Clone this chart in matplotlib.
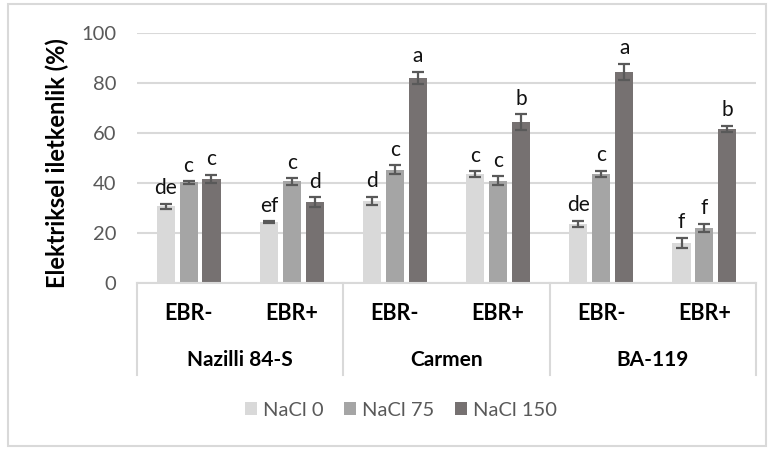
import matplotlib.pyplot as plt
import numpy as np
from matplotlib.patches import Rectangle

plt.rcParams["font.family"] = ["Lato", "DejaVu Sans"]

cultivars = ["Nazilli 84-S", "Carmen", "BA-119"]
treatments = ["EBR-", "EBR+"]
series = ["NaCl 0", "NaCl 75", "NaCl 150"]

# one value per cultivar x treatment, in plotting order
nacl0 = [30.8, 24.5, 33.0, 43.6, 23.6, 16.2]
nacl75 = [40.2, 40.6, 45.4, 40.9, 43.6, 22.2]
nacl150 = [41.6, 32.4, 82.0, 64.2, 84.5, 61.6]

err0 = [1.0, 0.3, 1.6, 1.1, 1.3, 2.0]
err75 = [0.5, 1.2, 1.8, 1.8, 1.4, 1.6]
err150 = [1.7, 2.0, 2.5, 3.2, 3.2, 1.3]

letters0 = ["de", "ef", "d", "c", "de", "f"]
letters75 = ["c", "c", "c", "c", "c", "f"]
letters150 = ["c", "d", "a", "b", "a", "b"]

colors = ["#D9D9D9", "#A5A5A5", "#767171"]
grey_text = "#595959"

fig = plt.figure(figsize=(7.73, 4.5), dpi=100)
ax = fig.add_axes([137 / 773, 1 - 283 / 450, 619 / 773, 250 / 450])

x = np.arange(len(nacl0))
width = 0.175
step = 0.222
vals = [nacl0, nacl75, nacl150]
errs = [err0, err75, err150]
lets = [letters0, letters75, letters150]

for k in range(3):
    pos = x + (k - 1) * step
    ax.bar(pos, vals[k], width, color=colors[k], label=series[k], zorder=2)
    ax.errorbar(pos, vals[k], yerr=errs[k], fmt="none", ecolor="#595959",
                elinewidth=1.6, capsize=4, capthick=1.6, zorder=3)
    for p, v, e, t in zip(pos, vals[k], errs[k], lets[k]):
        ax.text(p, v + e + 3.8, t, ha="center", va="baseline", fontsize=15, color="#111111")

ax.set_ylim(0, 100)
ax.set_xlim(-0.5, len(x) - 0.5)
ax.set_yticks(np.arange(0, 101, 20))
ax.yaxis.grid(True, color="#D9D9D9", linewidth=1.5, zorder=0)
ax.set_axisbelow(True)
ax.tick_params(axis="y", length=0, pad=15, labelsize=14.5, labelcolor=grey_text)
ax.tick_params(axis="x", length=0, labelbottom=False)
for s in ["top", "right", "left"]:
    ax.spines[s].set_visible(False)
ax.spines["bottom"].set_color("#D9D9D9")
ax.spines["bottom"].set_linewidth(1.5)

# multi-level category axis
tr = ax.get_xaxis_transform()
depth = -(375 - 283) / 250
for b in np.arange(-0.5, len(x), 2):
    ax.plot([b, b], [0, depth], transform=tr, color="#D9D9D9", lw=1.5, clip_on=False)
for i in x:
    ax.text(i, -(313 - 283) / 250, treatments[i % 2], transform=tr, ha="center", va="center",
            fontsize=15.5, fontweight="bold", color="black")
for j, name in enumerate(cultivars):
    ax.text(2 * j + 0.5, -(360 - 283) / 250, name, transform=tr, ha="center", va="center",
            fontsize=15, fontweight="bold", color="black")

fig.text(57 / 773, 1 - 163 / 450, "Elektriksel iletkenlik (%)", rotation=90,
         ha="center", va="center", fontsize=17, fontweight="bold")

ax.legend(loc="center", bbox_to_anchor=(401 / 773, 1 - 410 / 450), bbox_transform=fig.transFigure,
          ncol=3, frameon=False, fontsize=14.5, labelcolor=grey_text, handlelength=0.6,
          handleheight=0.6, handletextpad=0.3, columnspacing=1.0)

fig.patches.append(Rectangle((8 / 773, 4 / 450), 758 / 773, 442 / 450, transform=fig.transFigure,
                             fill=False, edgecolor="#D9D9D9", linewidth=1.5))

fig.savefig("out.png", dpi=100)
